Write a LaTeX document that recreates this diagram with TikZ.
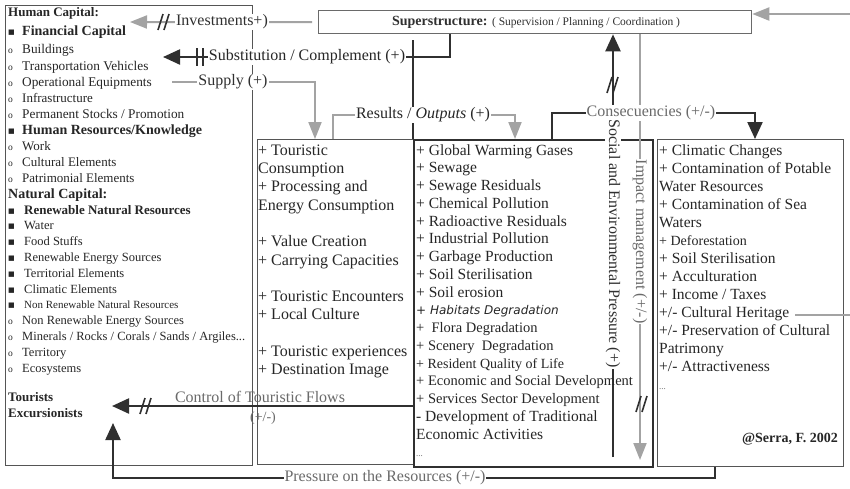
\documentclass[tikz,border=0pt]{standalone}
\usepackage{fontspec}
\setmainfont{Liberation Serif}
\newfontfamily\dejavu{DejaVu Sans}
\usetikzlibrary{arrows.meta}

\definecolor{ink}{HTML}{262626}
\definecolor{dk}{HTML}{303030}
\definecolor{gr}{HTML}{A3A3A3}
\definecolor{edge}{HTML}{555555}
\definecolor{soft}{HTML}{6A6A6A}

% list bullets
\newcommand\bsq[1][14pt]{\makebox[#1][l]{\raisebox{1pt}{\dejavu\fontsize{7}{8}\selectfont ■}}}
\newcommand\bci{\makebox[14pt][l]{\fontsize{9.5}{8}\selectfont o}}
\newcommand\fsz[1]{\fontsize{#1}{16}\selectfont}

\tikzset{
  dline/.style={draw=dk, line width=2.2pt},
  gline/.style={draw=gr, line width=2pt},
  dtip/.style={-{Triangle[length=17pt,width=15pt]}},
  gtip/.style={-{Triangle[length=17pt,width=13pt]}},
  frame/.style={draw=edge, line width=1.3pt, inner sep=0pt, anchor=north west},
  lab/.style={fill=white, inner sep=1pt, text=dk, font=\fontsize{16}{18}\selectfont},
  ltxt/.style={anchor=base west, inner sep=0pt, text=ink},
  list/.style={anchor=north west, inner sep=0pt, align=left, text=ink},
  slash2/.pic={\draw[draw=dk, line width=1.6pt] (-6,8) -- (-1,-8) (0,8) -- (5,-8);},
  bars2/.pic={\draw[draw=dk, line width=1.6pt] (-3,-9) -- (-3,9) (3,-9) -- (3,9);},
}

\begin{document}
\begin{tikzpicture}[x=1pt,y=-1pt]
\useasboundingbox (0,0) rectangle (850,488);
\fill[white] (0,0) rectangle (850,488);

% ---------- boxes ----------
\node[frame, minimum width=247pt, minimum height=460pt] (cap) at (5,5) {};
\node[frame, minimum width=156pt, minimum height=325pt] (use) at (257,139) {};
\node[frame, draw=dk, line width=1.8pt, minimum width=239pt, minimum height=327pt] (mid) at (413,139) {};
\node[frame, minimum width=186pt, minimum height=327pt] (res) at (657,139) {};
\node[frame, draw=soft, minimum width=433pt, minimum height=23pt] (sup) at (318,10) {};
\node[text=dk, font=\fontsize{14}{16}\selectfont] (supText) at (536,22)
  {\textbf{Superstructure:} {\fontsize{11.5}{13}\selectfont( Supervision / Planning / Coordination )}};

% ---------- connectors ----------
\coordinate (invEnd) at (130,22);
\coordinate (subEnd) at (163,57);
\coordinate (supStart) at (172,82);
\coordinate (ctrlEnd) at (112,406);
\coordinate (presEnd) at (113,423);
\coordinate (heritage) at (795,315);

% investments
\draw[gline, gtip] ([xshift=-6pt]sup.west) -- (invEnd);
\pic at (164,22) {slash2};
% substitution / complement
\draw[dline, dtip] (450,0 |- sup.south) -- (450,57) -- (subEnd);
\draw[dline] (413,40) -- (mid.north west);
\pic at (200,57) {bars2};
% supply
\draw[gline, gtip] (supStart) -- (315,82) -- (315,0 |- use.north);
% results / outputs
\draw[gline, gtip] (333,0 |- use.north) -- (333,115) -- (515,115) -- (515,0 |- mid.north);
% consequences
\draw[dline, dtip] (552,0 |- mid.north) -- (552,113) -- (755,113) -- (755,0 |- res.north);
% social and environmental pressure
\draw[dline, dtip] (613,457) -- (613,0 |- sup.south);
\pic at (613,85) {slash2};
% impact management
\draw[gline, gtip] (640,0 |- sup.south) -- (640,460);
\pic at (642,404) {slash2};
% control of touristic flows
\draw[dline, dtip] (413,406) -- (ctrlEnd);
\pic at (146,406) {slash2};
% pressure on the resources
\draw[dline, dtip] (715,0 |- res.south) -- (715,478) -- (113,478) -- (presEnd);
% cultural heritage feedback
\draw[gline, gtip] (heritage) -- (853,315) -- (853,14) -- (sup.east |- 0,14);

% ---------- connector labels ----------
\node[lab] (invLab) at (222,22) {Investments+)};
\node[lab, text=ink] (subLab) at (307,57) {Substitution / Complement (+)};
\node[lab] (supLab) at (233,82) {Supply (+)};
\node[lab, text=ink] (resLab) at (423,115) {Results / \textit{Outputs} (+)};
\node[lab, text=soft] (conLab) at (651,113) {Consecuencies (+/-)};
\node[lab, rotate=-90] (socLab) at (613,243.5) {Social and Environmental Pressure (+)};
\node[lab, rotate=-90, text=soft] (impLab) at (640,241.5) {Impact management (+/-)};
\node[text=soft, inner sep=0pt, anchor=base, font=\fontsize{16}{18}\selectfont] (ctrlLab) at (260,402) {Control of Touristic Flows};
\node[text=soft, inner sep=0pt, anchor=base, font=\fontsize{14}{16}\selectfont] (ctrlSign) at (263,421) {(+/-)};
\node[lab, text=soft] (presLab) at (385,478) {Pressure on the Resources (+/-)};

% ---------- capital list ----------
\node[ltxt, font=\fsz{13}\bfseries] (l1) at (8,16.5) {Human Capital:};
\node[ltxt, font=\fsz{14}\bfseries] (l2) at (8,35) {\bsq Financial Capital};
\node[ltxt, font=\fsz{13.3}] (l3) at (8,53) {\bci Buildings};
\node[ltxt, font=\fsz{13.3}] (l4) at (8,70) {\bci Transportation Vehicles};
\node[ltxt, font=\fsz{13.3}] (l5) at (8,86) {\bci Operational Equipments};
\node[ltxt, font=\fsz{13}] (l6) at (8,102) {\bci Infrastructure};
\node[ltxt, font=\fsz{13.3}] (l7) at (8,118) {\bci Permanent Stocks / Promotion};
\node[ltxt, font=\fsz{14}\bfseries] (l8) at (8,134) {\bsq Human Resources/Knowledge};
\node[ltxt, font=\fsz{13}] (l9) at (8,150) {\bci Work};
\node[ltxt, font=\fsz{13}] (l10) at (8,166) {\bci Cultural Elements};
\node[ltxt, font=\fsz{13}] (l11) at (8,182) {\bci Patrimonial Elements};
\node[ltxt, font=\fsz{14}\bfseries] (l12) at (8,198) {Natural Capital:};
\node[ltxt, font=\fsz{13}\bfseries] (l13) at (8,214) {\bsq[16pt]Renewable Natural Resources};
\node[ltxt, font=\fsz{12.5}] (l14) at (8,229) {\bsq[16pt]Water};
\node[ltxt, font=\fsz{12.5}] (l15) at (8,245) {\bsq[16pt]Food Stuffs};
\node[ltxt, font=\fsz{12.5}] (l16) at (8,261) {\bsq[16pt]Renewable Energy Sources};
\node[ltxt, font=\fsz{12.5}] (l17) at (8,277) {\bsq[16pt]Territorial Elements};
\node[ltxt, font=\fsz{12.5}] (l18) at (8,293) {\bsq[16pt]Climatic Elements};
\node[ltxt, font=\fsz{11}] (l19) at (8,308) {\bsq[16pt]Non Renewable Natural Resources};
\node[ltxt, font=\fsz{12.5}] (l20) at (8,324) {\bci Non Renewable Energy Sources};
\node[ltxt, font=\fsz{12.5}] (l21) at (8,340) {\bci Minerals / Rocks / Corals / Sands / Argiles...};
\node[ltxt, font=\fsz{12.5}] (l22) at (8,356) {\bci Territory};
\node[ltxt, font=\fsz{12.5}] (l23) at (8,372) {\bci Ecosystems};
\node[ltxt, font=\fsz{13}\bfseries] (l24) at (8,401) {Tourists};
\node[ltxt, font=\fsz{13}\bfseries] (l25) at (8,417) {Excursionists};

% ---------- results list ----------
\node[list, font=\fontsize{16}{18.3}\selectfont] (useText) at (258,142.2) {\strut+ Touristic\\
Consumption\\
+ Processing and\\
Energy Consumption\\[18.3pt]
+ Value Creation\\
+ Carrying Capacities\\[18.3pt]
+ Touristic Encounters\\
+ Local Culture\\[18.3pt]
+ Touristic experiences\\
+ Destination Image};

% ---------- pressures list ----------
\node[list, font=\fontsize{15.5}{17.75}\selectfont] (midText) at (416,142.6) {\strut+ Global Warming Gases\\
+ Sewage\\
+ Sewage Residuals\\
+ Chemical Pollution\\
+ Radioactive Residuals\\
+ Industrial Pollution\\
+ Garbage Production\\
+ Soil Sterilisation\\
+ Soil erosion\\
{\dejavu\itshape\fontsize{12}{17.75}\selectfont + Habitats Degradation}\\
{\fontsize{14.5}{17.75}\selectfont +\ \ Flora Degradation}\\
{\fontsize{14.5}{17.75}\selectfont + Scenery\ \ Degradation}\\
{\fontsize{14}{17.75}\selectfont + Resident Quality of Life}\\
{\fontsize{14.5}{17.75}\selectfont + Economic and Social Development}\\
{\fontsize{14.5}{17.75}\selectfont + Services Sector Development}\\
- Development of Traditional\\
Economic Activities\\
{\color{soft}\fontsize{9}{17.75}\selectfont ...}};

% ---------- consequences list ----------
\node[list, font=\fontsize{15.5}{18}\selectfont] (resText) at (659,142.4) {\strut+ Climatic Changes\\
+ Contamination of Potable\\
Water Resources\\
+ Contamination of Sea\\
Waters\\
{\fontsize{14}{18}\selectfont + Deforestation}\\
+ Soil Sterilisation\\
+ Acculturation\\
+ Income / Taxes\\
+/- Cultural Heritage\\
+/- Preservation of Cultural\\
Patrimony\\
+/- Attractiveness\\
{\color{soft}\fontsize{9}{18}\selectfont ...}};

\node[anchor=base east, inner sep=0pt, text=ink, font=\fontsize{14}{16}\selectfont\bfseries] (credit) at (838,442) {@Serra, F. 2002};
\end{tikzpicture}
\end{document}
